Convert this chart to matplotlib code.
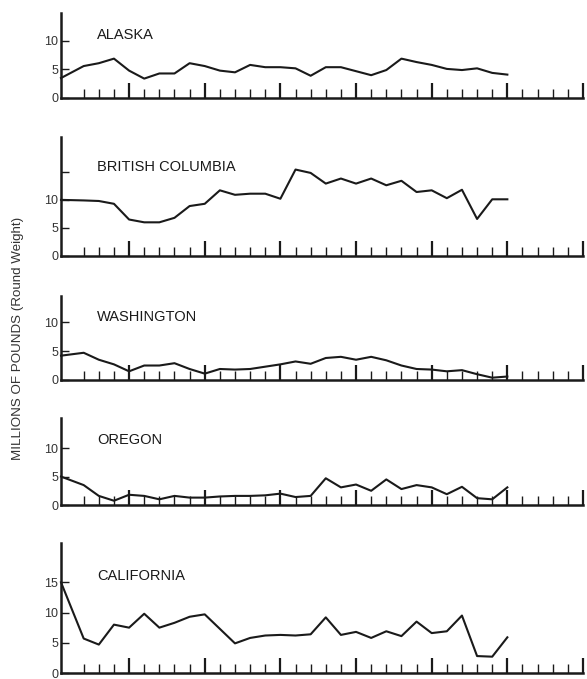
import numpy as np
from matplotlib import pyplot as plt

# Landings by region, millions of pounds (round weight), one value per season
x_pos = [0.5] + list(range(2, 31))

alaska = [3.5, 5.6, 6.1, 6.9, 4.8, 3.4, 4.3, 4.3, 6.1, 5.6, 4.8, 4.5, 5.8, 5.4, 5.4,
          5.2, 3.9, 5.4, 5.4, 4.7, 4.0, 4.9, 6.9, 6.3, 5.8, 5.1, 4.9, 5.2, 4.4, 4.1]
british_columbia = [10.0, 9.9, 9.8, 9.3, 6.5, 6.0, 6.0, 6.8, 8.9, 9.3, 11.7, 10.9, 11.1, 11.1, 10.2,
                    15.4, 14.8, 12.9, 13.8, 12.9, 13.8, 12.6, 13.4, 11.4, 11.7, 10.3, 11.8, 6.6, 10.1, 10.1]
washington = [4.2, 4.7, 3.5, 2.7, 1.5, 2.5, 2.5, 2.9, 1.9, 1.1, 1.9, 1.8, 1.9, 2.3, 2.7,
              3.2, 2.8, 3.8, 4.0, 3.5, 4.0, 3.4, 2.5, 1.9, 1.8, 1.5, 1.7, 1.0, 0.4, 0.6]
oregon = [5.0, 3.5, 1.6, 0.75, 1.8, 1.6, 1.0, 1.6, 1.3, 1.3, 1.5, 1.6, 1.6, 1.7, 2.0,
          1.4, 1.6, 4.7, 3.1, 3.6, 2.5, 4.5, 2.8, 3.5, 3.1, 1.9, 3.2, 1.2, 1.0, 3.1]
california = [15.0, 5.7, 4.7, 8.0, 7.5, 9.8, 7.5, 8.3, 9.3, 9.7, 7.3, 4.9, 5.8, 6.2, 6.3,
              6.2, 6.4, 9.2, 6.3, 6.8, 5.8, 6.9, 6.1, 8.5, 6.6, 6.9, 9.5, 2.8, 2.7, 5.9]

names = ['ALASKA', 'BRITISH COLUMBIA', 'WASHINGTON', 'OREGON', 'CALIFORNIA']
series = [alaska, british_columbia, washington, oregon, california]
yticks = [[0, 5, 10], [0, 5, 10, 15], [0, 5, 10], [0, 5, 10], [0, 5, 10, 15]]
ytick_labels = [['0', '5', '10'], ['0', '5', '10', ''], ['0', '5', '10'],
                ['0', '5', '10'], ['0', '5', '10', '15']]

plt.rcParams['font.family'] = ['Liberation Sans', 'DejaVu Sans']
ink = '#1a1a1a'

fig = plt.figure(figsize=(5.87, 6.79), dpi=100)

# panel boxes in pixels: (baseline y, top y, y max)
boxes = [(98, 13, 14.9), (256, 137, 21.2), (380, 296, 14.5), (505, 418, 15.3), (673, 543, 21.5)]
left, right = 61, 583

for name, vals, yt, ytl, (base, top, ymax) in zip(names, series, yticks, ytick_labels, boxes):
    ax = fig.add_axes([left / 587, 1 - base / 679, (right - left) / 587, (base - top) / 679])
    ax.plot(x_pos, vals, color=ink, lw=1.5, clip_on=False)
    ax.set_xlim(0.5, 35)
    ax.set_ylim(0, ymax)

    ax.spines['top'].set_visible(False)
    ax.spines['right'].set_visible(False)
    for side in ['left', 'bottom']:
        ax.spines[side].set_linewidth(1.8)
        ax.spines[side].set_color(ink)

    ax.set_xticks(np.arange(5, 36, 5))
    ax.set_xticks([m for m in range(2, 35) if m % 5 != 0], minor=True)
    ax.tick_params(axis='x', which='major', direction='in', length=10.5, width=1.6,
                   color=ink, labelbottom=False)
    ax.tick_params(axis='x', which='minor', direction='in', length=6.3, width=1.0,
                   color=ink)

    ax.set_yticks(yt)
    ax.set_yticklabels(ytl)
    ax.tick_params(axis='y', direction='in', length=5.5, width=1.0, color=ink,
                   pad=2, labelsize=9, labelcolor='#333333')
    ax.patch.set_alpha(0)

    ax.text(0.069, 0.745, name, transform=ax.transAxes, fontsize=10.5,
            color=ink, va='center', ha='left')

fig.text(0.030, 0.502, 'MILLIONS OF POUNDS (Round Weight)', rotation=90,
         fontsize=9.6, color='#333333', va='center', ha='center')

plt.savefig('out.png', dpi=100)
